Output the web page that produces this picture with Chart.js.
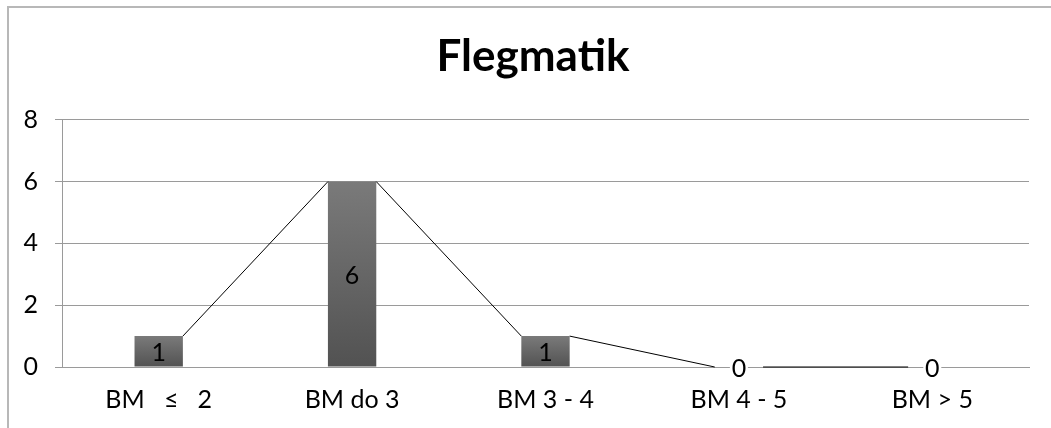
<!DOCTYPE html>
<html>
<head>
<meta charset="utf-8">
<script src="https://cdn.jsdelivr.net/npm/chart.js@4"></script>
<style>
  html, body { margin: 0; padding: 0; background: #fff; }
  #wrap { position: relative; width: 1051px; height: 428px; overflow: hidden; }
  #frame { position: absolute; left: 7px; top: 6px; width: 1100px; height: 500px;
           border-left: 2px solid #b8b8b8; border-top: 2px solid #b8b8b8; }
  canvas { position: absolute; left: 0; top: 0; }
</style>
</head>
<body>
<div id="wrap">
  <div id="frame"></div>
  <canvas id="c" width="1051" height="428"></canvas>
</div>
<script>
const title = "Flegmatik";
const categories = ["BM   \u2264   2", "BM do 3", "BM 3 - 4", "BM 4 - 5", "BM > 5"];
const counts = [1, 6, 1, 0, 0];
const yTicks = [0, 2, 4, 6, 8];

const FONT = "Lato, 'Liberation Sans', sans-serif";
const TICK_SIZE = 25;

// Centre the title slightly right of the canvas centre, as in the original
const titleShift = {
  id: 'titleShift',
  afterLayout(chart) {
    if (chart.titleBlock) chart.titleBlock.left = 37;
  }
};

// Series lines connecting the top corners of adjacent bars
const seriesLines = {
  id: 'seriesLines',
  afterDatasetsDraw(chart) {
    const meta = chart.getDatasetMeta(0);
    const ctx = chart.ctx;
    ctx.save();
    ctx.strokeStyle = '#000';
    ctx.lineWidth = 1;
    for (let i = 0; i < meta.data.length - 1; i++) {
      const a = meta.data[i], b = meta.data[i + 1];
      ctx.beginPath();
      ctx.moveTo(a.x + a.width / 2, a.y);
      ctx.lineTo(b.x - b.width / 2, b.y);
      ctx.stroke();
    }
    ctx.restore();
  }
};

// Value labels centred in each bar
const valueLabels = {
  id: 'valueLabels',
  afterDatasetsDraw(chart) {
    const meta = chart.getDatasetMeta(0);
    const ctx = chart.ctx;
    const ds = chart.data.datasets[0].data;
    ctx.save();
    ctx.font = TICK_SIZE + "px " + FONT;
    ctx.textAlign = 'center';
    ctx.textBaseline = 'middle';
    meta.data.forEach((bar, i) => {
      const yc = (bar.y + bar.base) / 2;
      if (ds[i] === 0) {
        ctx.fillStyle = '#fff';
        ctx.fillRect(bar.x - 9, yc - 2, 18, 4);
      }
      ctx.fillStyle = '#000';
      ctx.fillText(String(ds[i]), bar.x, yc + 2);
    });
    ctx.restore();
  }
};

new Chart(document.getElementById('c'), {
  type: 'bar',
  data: {
    labels: categories,
    datasets: [{
      data: counts,
      backgroundColor(context) {
        const chart = context.chart;
        const y = chart.scales.y;
        if (!y || context.raw === undefined) return '#5a5a5a';
        const top = y.getPixelForValue(context.raw);
        const base = y.getPixelForValue(0);
        if (!isFinite(top) || !isFinite(base) || Math.abs(base - top) < 1) return '#5a5a5a';
        const g = chart.ctx.createLinearGradient(0, top, 0, base);
        g.addColorStop(0, '#7a7a7a');
        g.addColorStop(1, '#525252');
        return g;
      },
      borderWidth: 0,
      categoryPercentage: 1,
      barPercentage: 0.25
    }]
  },
  options: {
    responsive: false,
    animation: false,
    devicePixelRatio: 1,
    layout: { padding: { left: 0, right: 22, top: 0, bottom: 0 } },
    plugins: {
      legend: { display: false },
      tooltip: { enabled: false },
      title: {
        display: true,
        text: title,
        color: '#000',
        font: { family: FONT, size: 44, weight: 'bold', lineHeight: 1.2 },
        padding: { top: 30, bottom: 37 }
      }
    },
    scales: {
      x: {
        grid: { display: false, drawTicks: false },
        border: { display: true, color: '#9a9a9a', width: 1 },
        ticks: { color: '#000', font: { family: FONT, size: TICK_SIZE }, padding: 18, maxRotation: 0 },
        afterFit(s) { s.height = 61; }
      },
      y: {
        min: 0, max: 8,
        afterBuildTicks(s) { s.ticks = yTicks.map(v => ({ value: v })); },
        grid: { color: '#9a9a9a', lineWidth: 1, tickLength: 7, drawTicks: true },
        border: { display: true, color: '#9a9a9a', width: 1 },
        ticks: { color: '#000', font: { family: FONT, size: TICK_SIZE }, padding: 17 },
        afterFit(s) { s.width = 62; }
      }
    }
  },
  plugins: [titleShift, seriesLines, valueLabels]
});
</script>
</body>
</html>
